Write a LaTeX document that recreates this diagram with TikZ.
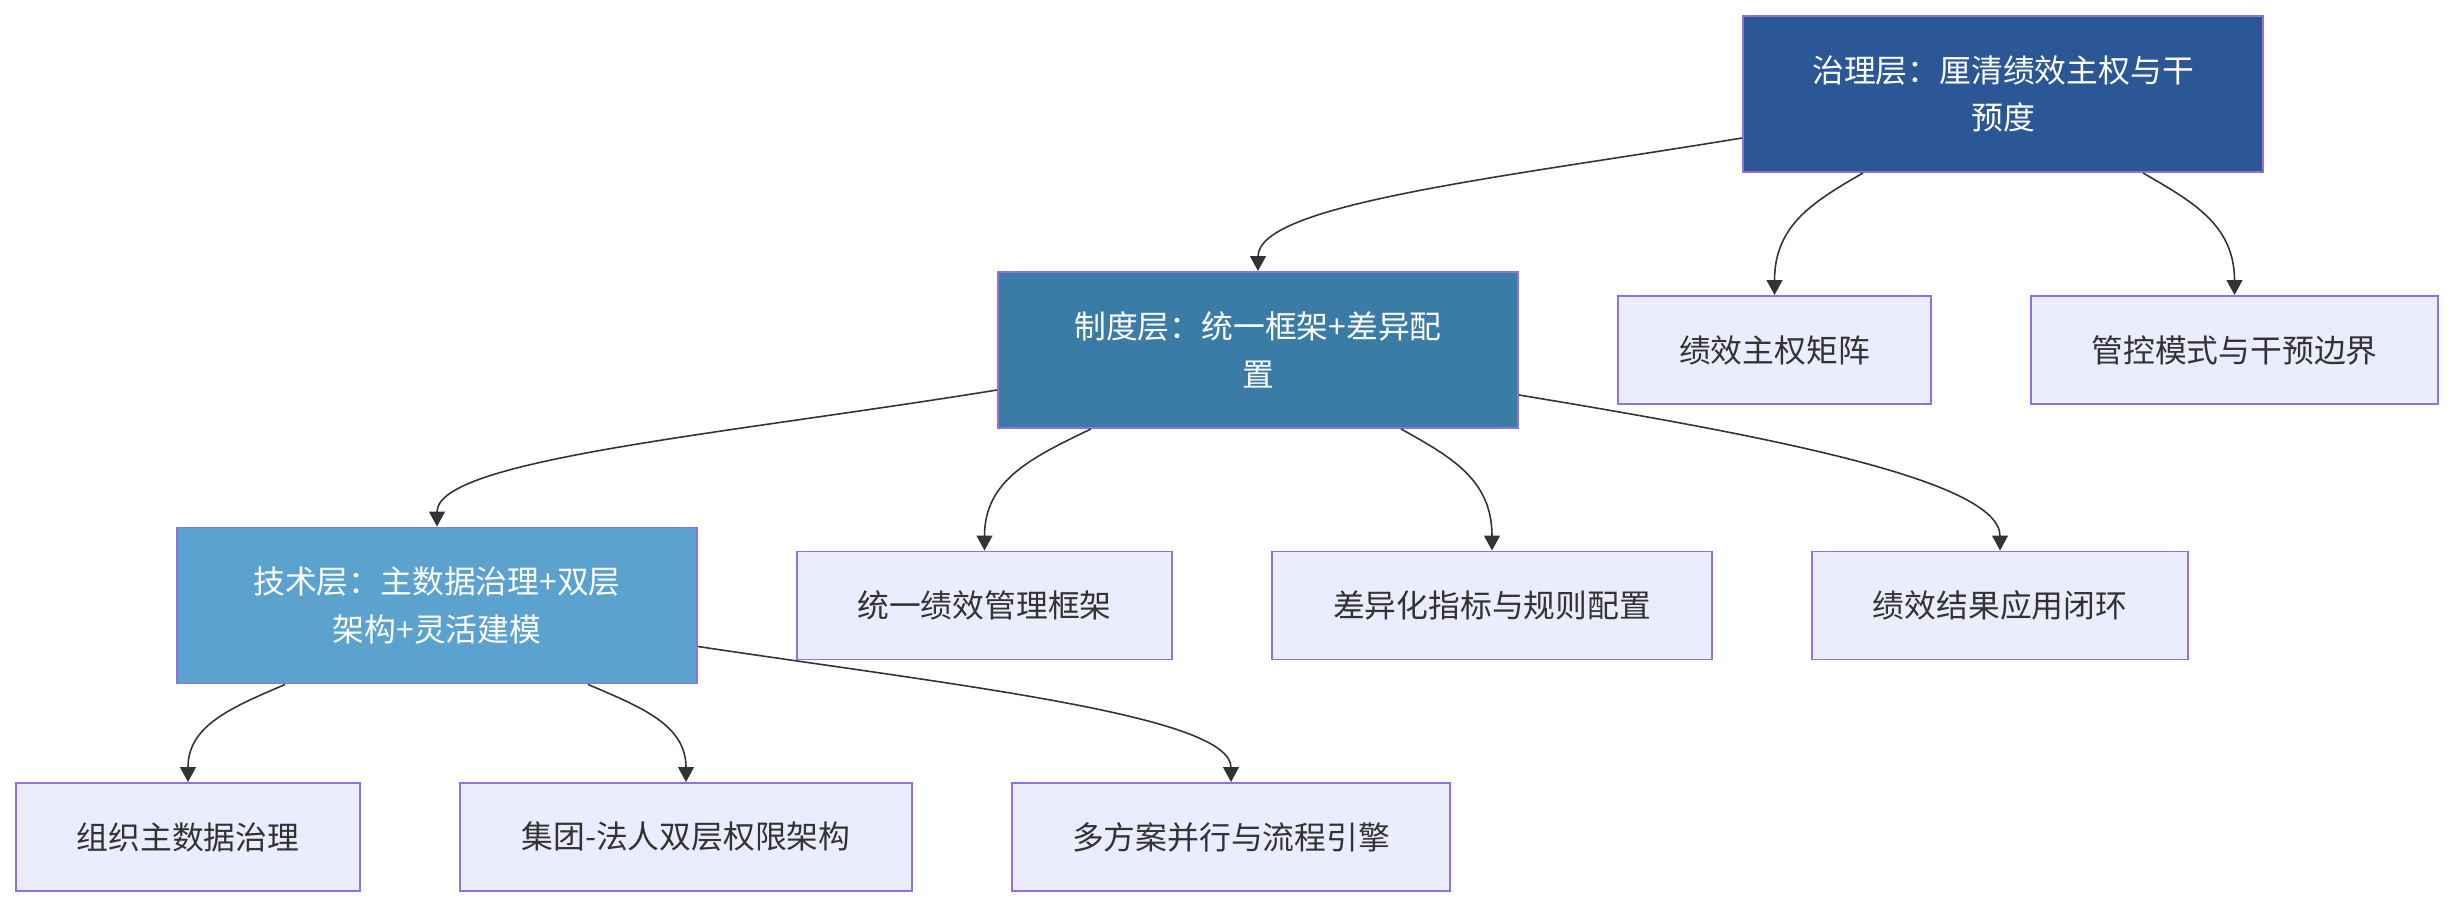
\documentclass[tikz,border=0pt]{standalone}
\usepackage{fontspec}
\setmainfont{Noto Sans CJK SC}
\usetikzlibrary{arrows.meta,calc}
\definecolor{govblue}{HTML}{2B5797}
\definecolor{instblue}{HTML}{3A7CA5}
\definecolor{techblue}{HTML}{5BA3CE}
\definecolor{leaffill}{HTML}{ECECFF}
\definecolor{boxedge}{HTML}{9370DB}
\definecolor{inkgray}{HTML}{333333}
\begin{document}
\begin{tikzpicture}[x=0.02cm, y=-0.02cm,
  box/.style={draw=boxedge, line width=1.1pt, inner sep=0pt, align=center,
    font=\fontsize{18.1}{27.2}\selectfont},
  layerbox/.style={box, text=white, minimum width=10.4cm, minimum height=3.12cm},
  leafbox/.style={box, fill=leaffill, text=inkgray, minimum height=2.16cm},
  link/.style={draw=inkgray, line width=0.9pt, -{Triangle[length=8.5pt,width=9pt]}}]
  \useasboundingbox (0,0) rectangle (2454,908);
  \node[layerbox, fill=govblue] (gov) at (2003,94) {治理层：厘清绩效主权与干\\预度};
  \node[layerbox, fill=instblue] (inst) at (1258,350) {制度层：统一框架+差异配\\置};
  \node[layerbox, fill=techblue] (tech) at (437,605.5) {技术层：主数据治理+双层\\架构+灵活建模};
  \node[leafbox, minimum width=6.26cm] (matrix) at (1774.5,350) {绩效主权矩阵};
  \node[leafbox, minimum width=8.14cm] (control) at (2234.5,350) {管控模式与干预边界};
  \node[leafbox, minimum width=7.5cm] (frame) at (984.5,605.5) {统一绩效管理框架};
  \node[leafbox, minimum width=8.8cm] (rules) at (1492,605.5) {差异化指标与规则配置};
  \node[leafbox, minimum width=7.52cm] (loop) at (2000,605.5) {绩效结果应用闭环};
  \node[leafbox, minimum width=6.88cm] (orgdata) at (188,837) {组织主数据治理};
  \node[leafbox, minimum width=9.04cm] (rights) at (686,837) {集团-法人双层权限架构};
  \node[leafbox, minimum width=8.76cm] (engine) at (1231,837) {多方案并行与流程引擎};
  \draw[link] ($(gov.west)+(0,44)$) .. controls +(-243,40) and +(0,-67) .. (inst.north);
  \draw[link] ($(gov.south)+(-140,0)$) .. controls +(-48,28) and +(0,-71) .. (matrix.north);
  \draw[link] ($(gov.south)+(140,0)$) .. controls +(48,28) and +(0,-71) .. (control.north);
  \draw[link] ($(inst.west)+(0,40)$) .. controls +(-278,45) and +(0,-67) .. (tech.north);
  \draw[link] ($(inst.south)+(-167,0)$) .. controls +(-58,28) and +(0,-71) .. (frame.north);
  \draw[link] ($(inst.south)+(143,0)$) .. controls +(50,28) and +(0,-71) .. (rules.north);
  \draw[link] ($(inst.east)+(0,45)$) .. controls +(242,40) and +(0,-71) .. (loop.north);
  \draw[link] ($(tech.south)+(-152,0)$) .. controls +(-53,23) and +(0,-57) .. (orgdata.north);
  \draw[link] ($(tech.south)+(151,0)$) .. controls +(54,23) and +(0,-57) .. (rights.north);
  \draw[link] ($(tech.east)+(0,41)$) .. controls +(268,40) and +(0,-66) .. (engine.north);
\end{tikzpicture}
\end{document}
